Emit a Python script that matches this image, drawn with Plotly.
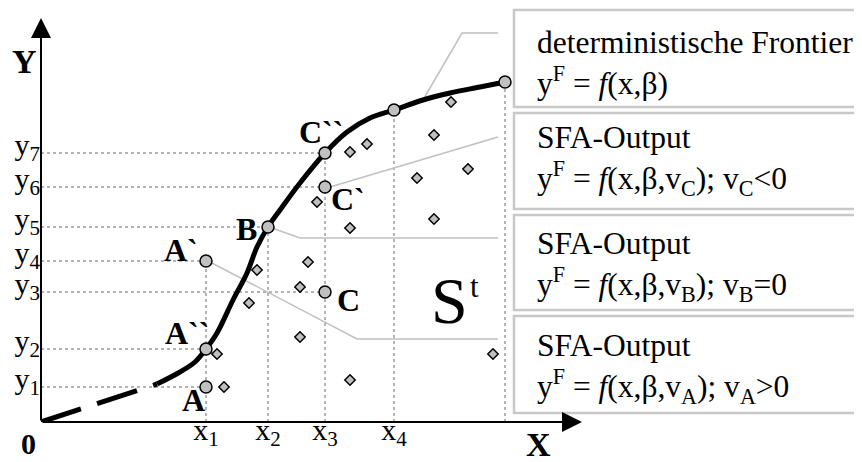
import plotly.graph_objects as go

# Achsenwerte (x1..x4, y1..y7)
x_werte = [3.30, 4.54, 5.68, 7.06]
y_werte = [0.70, 1.46, 2.60, 3.22, 3.90, 4.70, 5.38]
x_namen = ["x<sub>1</sub>", "x<sub>2</sub>", "x<sub>3</sub>", "x<sub>4</sub>"]
y_namen = ["y<sub>1</sub>", "y<sub>2</sub>", "y<sub>3</sub>", "y<sub>4</sub>",
           "y<sub>5</sub>", "y<sub>6</sub>", "y<sub>7</sub>"]

# deterministische Frontier (gestrichelter Anfang + durchgezogener Teil)
strich_x = [0.0, 2.32]
strich_y = [0.0, 0.76]
frontier_x = [2.32, 2.78, 3.08, 3.30, 3.52, 3.84, 4.12, 4.32, 4.54, 4.78, 5.18,
              5.68, 6.12, 6.58, 7.06, 7.64, 8.18, 8.78, 9.28]
frontier_y = [0.76, 1.00, 1.20, 1.46, 1.78, 2.44, 2.98, 3.50, 3.90, 4.24, 4.78,
              5.38, 5.80, 6.08, 6.24, 6.44, 6.58, 6.70, 6.80]

# markierte Punkte
punkt_namen = ["A", "A``", "A`", "B", "C", "C`", "C``", "", ""]
punkt_x = [3.30, 3.30, 3.30, 4.54, 5.68, 5.68, 5.68, 7.06, 9.28]
punkt_y = [0.70, 1.46, 3.22, 3.90, 2.60, 4.70, 5.38, 6.24, 6.80]

# Beobachtungen (Rauten)
raute_x = [3.52, 3.66, 4.32, 4.16, 5.18, 5.18, 5.34, 6.18, 6.52, 5.52, 6.18,
           7.86, 8.20, 7.52, 8.54, 7.86, 6.18, 9.04]
raute_y = [1.36, 0.70, 3.04, 2.38, 2.70, 1.70, 3.20, 5.40, 5.56, 4.40, 3.88,
           5.74, 6.40, 4.88, 5.06, 4.06, 0.84, 1.36]

# Hilfslinien
h_ende = [3.30, 3.30, 5.68, 3.30, 4.54, 5.68, 5.68]
v_x = [3.30, 4.54, 5.68, 7.06, 9.28]
v_oben = [3.22, 3.90, 5.38, 6.24, 6.80]

# Verbindungslinien zu den Kästen
verb_x = [7.64, 8.42, 9.14, None, 5.78, 9.14, None, 4.62, 5.18, 9.14, None, 3.42, 6.32, 9.14]
verb_y = [6.44, 7.78, 7.78, None, 4.70, 5.70, None, 3.88, 3.68, 3.68, None, 3.18, 1.66, 1.66]

# Kästen rechts
kasten_unten = [6.30, 4.26, 2.24, 0.18]
kasten_oben = [8.24, 6.18, 4.14, 2.12]
kasten_text = [
    "deterministische Frontier<br>y<sup>F</sup> = <i>f</i>(x,β)",
    "SFA-Output<br>y<sup>F</sup> = <i>f</i>(x,β,v<sub>C</sub>); v<sub>C</sub>&lt;0",
    "SFA-Output<br>y<sup>F</sup> = <i>f</i>(x,β,v<sub>B</sub>); v<sub>B</sub>=0",
    "SFA-Output<br>y<sup>F</sup> = <i>f</i>(x,β,v<sub>A</sub>); v<sub>A</sub>&gt;0",
]
kasten_text_y = [7.18, 5.24, 3.12, 1.08]

SERIF = "Liberation Serif"
GRAU = "#c0c0c0"
X_MAX = 16.42
Y_MAX = 8.28

hx, hy = [], []
for yv, xe in zip(y_werte, h_ende):
    hx += [0, xe, None]
    hy += [yv, yv, None]
for xv, yo in zip(v_x, v_oben):
    hx += [xv, xv, None]
    hy += [0, yo, None]

fig = go.Figure()
fig.add_trace(go.Scatter(x=hx, y=hy, mode="lines",
                         line=dict(color="#b4b4b4", width=2, dash="dot")))
fig.add_trace(go.Scatter(x=verb_x, y=verb_y, mode="lines",
                         line=dict(color=GRAU, width=1.5)))
fig.add_trace(go.Scatter(x=strich_x, y=strich_y, mode="lines",
                         line=dict(color="black", width=5, dash="42px,17px")))
fig.add_trace(go.Scatter(x=frontier_x, y=frontier_y, mode="lines",
                         line=dict(color="black", width=5, shape="spline")))
fig.add_trace(go.Scatter(x=raute_x, y=raute_y, mode="markers",
                         marker=dict(symbol="diamond", size=8, color=GRAU,
                                     line=dict(color="black", width=1.5))))
fig.add_trace(go.Scatter(x=punkt_x, y=punkt_y, mode="markers",
                         marker=dict(symbol="circle", size=12, color=GRAU,
                                     line=dict(color="black", width=1.5))))

# Beschriftung der Punkte (Versatz in Pixeln)
versatz = {"A": (-13, -13), "A``": (-19, 16), "A`": (-25, 11), "B": (-22, -2),
           "C": (23, -8), "C`": (23, -12), "C``": (-4, 21)}
for n, px, py in zip(punkt_namen, punkt_x, punkt_y):
    if n:
        dx, dy = versatz[n]
        fig.add_annotation(x=px, y=py, text="<b>" + n + "</b>", showarrow=False,
                           xshift=dx, yshift=dy, font=dict(family=SERIF, size=32, color="black"))

# Achsen mit Pfeilen
fig.add_annotation(x=0, y=8.08, ax=0, ay=0, xref="x", yref="y", axref="x", ayref="y",
                   text="", showarrow=True, arrowhead=2, arrowsize=2, arrowwidth=2,
                   arrowcolor="black")
fig.add_annotation(x=10.82, y=0, ax=0, ay=0, xref="x", yref="y", axref="x", ayref="y",
                   text="", showarrow=True, arrowhead=2, arrowsize=2, arrowwidth=2,
                   arrowcolor="black")
for t, ax_, ay_, s in [("<b>Y</b>", -0.34, 7.2, 34), ("<b>X</b>", 9.94, -0.44, 34),
                       ("<b>0</b>", -0.26, -0.42, 30)]:
    fig.add_annotation(x=ax_ / X_MAX, y=ay_ / Y_MAX, xref="paper", yref="paper", text=t,
                       xanchor="center", yanchor="middle",
                       showarrow=False, font=dict(family=SERIF, size=s, color="black"))
fig.add_annotation(x=8.16, y=2.44, text="S", showarrow=False,
                   font=dict(family=SERIF, size=66, color="black"))
fig.add_annotation(x=8.66, y=2.72, text="t", showarrow=False,
                   font=dict(family=SERIF, size=31, color="black"))

for y0, y1, t, ty in zip(kasten_unten, kasten_oben, kasten_text, kasten_text_y):
    fig.add_shape(type="rect", xref="x", yref="y", x0=9.46, x1=17, y0=y0, y1=y1,
                  line=dict(color="#c8c8c8", width=2.5), fillcolor="rgba(0,0,0,0)")
    fig.add_annotation(x=9.88, y=ty, text=t, showarrow=False, xanchor="left", align="left",
                       font=dict(family=SERIF, size=31.5, color="black"))

achse = dict(showgrid=False, zeroline=False, showline=False, ticks="", automargin=False,
             fixedrange=True, tickfont=dict(family=SERIF, size=30, color="black"))
fig.update_xaxes(range=[0, X_MAX], tickvals=x_werte, ticktext=x_namen,
                 ticklabelstandoff=-13, **achse)
fig.update_yaxes(range=[0, Y_MAX], tickvals=y_werte, ticktext=y_namen,
                 ticklabelshift=-9, **achse)
# Seite hat 8px Rand, daher Figur 854x454
fig.update_layout(width=854, height=454, margin=dict(l=33, r=0, t=0, b=40),
                  plot_bgcolor="white", paper_bgcolor="white", showlegend=False)

fig.write_html("out.html")
